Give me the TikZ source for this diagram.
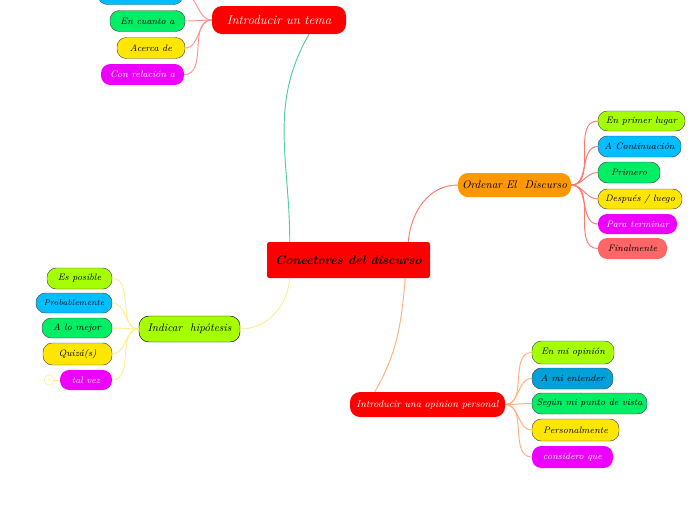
\documentclass[tikz,border=0pt]{standalone}
\usepackage{tikz}
\usetikzlibrary{positioning}
\definecolor{mapred}{RGB}{255,0,0}
\definecolor{maporange}{RGB}{255,152,0}
\definecolor{maplime}{RGB}{166,255,0}
\definecolor{mapcyan}{RGB}{0,190,255}
\definecolor{mapblue}{RGB}{0,160,216}
\definecolor{mapgreen}{RGB}{0,238,102}
\definecolor{mapyellow}{RGB}{255,230,0}
\definecolor{mapmagenta}{RGB}{238,0,255}
\definecolor{mapsalmon}{RGB}{255,102,102}
\definecolor{linkteal}{RGB}{80,205,160}
\definecolor{linksalmon}{RGB}{255,120,110}
\definecolor{linkyellow}{RGB}{255,238,140}
\definecolor{linkpeach}{RGB}{255,175,125}

\begin{document}
\begin{tikzpicture}[
    x=0.03cm, y=-0.03cm,
    leaf/.style={rectangle, rounded corners=0.28cm, draw=black!70, thin, minimum height=0.63cm, inner sep=2pt, align=center, font=\fontsize{8}{9}\selectfont\itshape},
    plain/.style={leaf, draw=none, text=white},
    topic/.style={rectangle, rounded corners=0.3cm, minimum height=0.75cm, inner sep=2pt, align=center, font=\fontsize{9.5}{11}\selectfont\itshape},
    bw/.style={minimum width=#1*0.03cm},
    link/.style={line width=0.8pt}
]
\useasboundingbox (0,0) rectangle (697,520);

% centre
\node[rectangle, rounded corners=2pt, fill=mapred, inner sep=2pt, minimum width=163*0.03cm, minimum height=36*0.03cm, font=\fontsize{10.5}{12}\selectfont\bfseries\itshape] (main) at (348.5,260) {Conectores del discurso};

% Introducir un tema
\node[topic, fill=mapred, text=white, bw=134, minimum height=28*0.03cm, font=\fontsize{11}{12}\selectfont\itshape] (tema) at (279,20) {Introducir un tema};
\node[leaf, fill=mapcyan, bw=85] (tcut) at (140.5,-6) {};
\node[leaf, fill=mapgreen, bw=75] (tcuanto) at (147.5,21) {En cuanto a};
\node[leaf, fill=mapyellow, bw=68] (tacerca) at (151,48) {Acerca de};
\node[plain, fill=mapmagenta, bw=83] (trel) at (142.5,74.5) {Con relación a};

% Ordenar El Discurso
\node[topic, fill=maporange, bw=113, minimum height=24*0.03cm] (ord) at (514.5,185) {Ordenar El~ Discurso};
\node[leaf, fill=maplime, bw=87, minimum height=20*0.03cm] (oprimer) at (641.5,121) {En primer lugar};
\node[leaf, fill=mapcyan, bw=83] (ocont) at (639.5,146.5) {A Continuación};
\node[leaf, fill=mapgreen, bw=62] (oprimero) at (629,172.5) {Primero};
\node[leaf, fill=mapyellow, bw=84, minimum height=20*0.03cm] (odespues) at (640,199) {Después / luego};
\node[plain, fill=mapmagenta, bw=79, minimum height=20*0.03cm] (oterm) at (637.5,224) {Para terminar};
\node[leaf, draw=none, fill=mapsalmon, bw=69] (ofinal) at (632.5,248.5) {Finalmente};

% Indicar hipotesis
\node[topic, fill=maplime, draw=black, thin, bw=101, minimum height=26*0.03cm] (hip) at (189.5,329) {Indicar~ hipótesis};
\node[leaf, fill=maplime, bw=65] (hposible) at (79.5,278.5) {Es posible};
\node[leaf, fill=mapcyan, bw=76, minimum height=20*0.03cm, font=\fontsize{7}{8}\selectfont\itshape] (hprob) at (74,303) {Probablemente};
\node[leaf, fill=mapgreen, bw=70, minimum height=20*0.03cm] (hmejor) at (77,328) {A lo mejor};
\node[leaf, fill=mapyellow, bw=69, minimum height=22*0.03cm] (hquiza) at (77.5,354) {Quizá(s)};
\node[plain, fill=mapmagenta, bw=52, minimum height=20*0.03cm] (hvez) at (86,380) {tal vez};
\node[circle, draw=linkyellow, inner sep=0pt, minimum size=10*0.03cm, text=linkyellow, font=\fontsize{4}{4}\selectfont] (hmark) at (49,380) {1};

% Introducir una opinion personal
\node[topic, fill=mapred, text=white, bw=155, minimum height=25*0.03cm, font=\fontsize{8.5}{10}\selectfont\itshape] (opi) at (427.5,404.5) {Introducir una opinion personal};
\node[leaf, fill=maplime, bw=82, minimum height=23*0.03cm] (pmi) at (573,352.5) {En mi opinión};
\node[leaf, fill=mapblue, bw=81] (pent) at (572.5,378.5) {A mi entender};
\node[leaf, fill=mapgreen, bw=115] (psegun) at (589.5,403.5) {Según mi punto de vista};
\node[leaf, fill=mapyellow, bw=87, minimum height=22*0.03cm] (ppers) at (575.5,430) {Personalmente};
\node[plain, fill=mapmagenta, bw=81, minimum height=22*0.03cm] (pcons) at (572.5,457) {considero que};

% main branches
\draw[link, linkteal] ([xshift=0.69cm]main.north west) to[out=90,in=240] ([xshift=0.9cm]tema.south);
\draw[link, linksalmon] ([xshift=-0.66cm]main.north east) to[out=85,in=180] (ord.west);
\draw[link, linkyellow] ([xshift=0.69cm]main.south west) to[out=265,in=0] (hip.east);
\draw[link, linkpeach] ([xshift=-0.75cm]main.south east) to[out=265,in=60] ([xshift=0.75cm]opi.north west);

% sub branches
\foreach \n in {tcut,tcuanto,tacerca,trel}
  \draw[link, linksalmon!80] (tema.west) to[out=180,in=0] (\n.east);
\foreach \n in {oprimer,ocont,oprimero,odespues,oterm,ofinal}
  \draw[link, linksalmon] (ord.east) to[out=0,in=180] (\n.west);
\foreach \n in {hposible,hprob,hmejor,hquiza,hvez}
  \draw[link, linkyellow] (hip.west) to[out=180,in=0] (\n.east);
\foreach \n in {pmi,pent,psegun,ppers,pcons}
  \draw[link, linkpeach] (opi.east) to[out=0,in=180] (\n.west);
\draw[link, linkyellow] (hmark) -- (hvez.west);
\end{tikzpicture}
\end{document}
